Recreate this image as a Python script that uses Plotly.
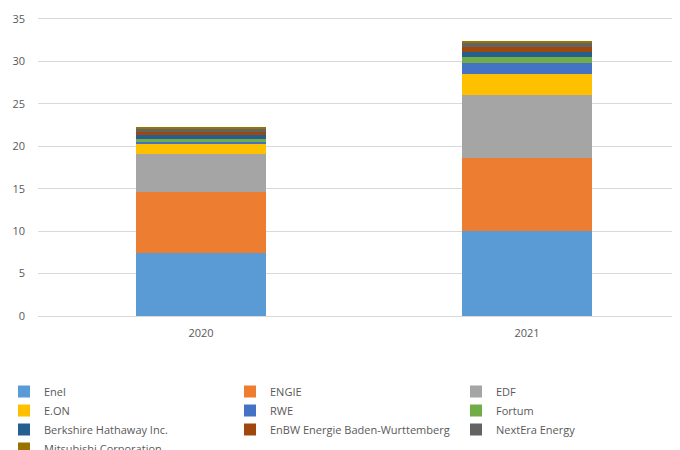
import plotly.graph_objects as go

years = ["2020", "2021"]
companies = ["Enel", "ENGIE", "EDF", "E.ON", "RWE", "Fortum",
             "Berkshire Hathaway Inc.", "EnBW Energie Baden-Wurttemberg",
             "NextEra Energy", "Mitsubishi Corporation"]
values = {
    "Enel": [7.42, 10.0],
    "ENGIE": [7.16, 8.65],
    "EDF": [4.54, 7.39],
    "E.ON": [1.18, 2.51],
    "RWE": [0.2, 1.3],
    "Fortum": [0.35, 0.71],
    "Berkshire Hathaway Inc.": [0.5, 0.59],
    "EnBW Energie Baden-Wurttemberg": [0.35, 0.51],
    "NextEra Energy": [0.32, 0.47],
    "Mitsubishi Corporation": [0.27, 0.24],
}
colors = ["#5B9BD5", "#ED7D31", "#A5A5A5", "#FFC000", "#4472C4", "#70AD47",
          "#255E91", "#9E480E", "#636363", "#997300"]
y_ticks = [0, 5, 10, 15, 20, 25, 30, 35]

W, H = 760, 442
L, T, B = 30, 8, 134
plot_w = W - L
plot_h = H - T - B

fig = go.Figure()
for name, col in zip(companies, colors):
    fig.add_trace(go.Bar(x=years, y=values[name], name=name, marker_color=col,
                         marker_line_width=0, width=0.4))

fig.update_layout(
    barmode="stack",
    width=W, height=H,
    margin=dict(l=L, r=0, t=T, b=B, autoexpand=False),
    plot_bgcolor="white", paper_bgcolor="white",
    font=dict(family="Open Sans, Calibri, sans-serif", size=11, color="#595959"),
    xaxis=dict(type="category", range=[-0.5, -0.5 + plot_w / 326], showgrid=False,
               showline=True, linecolor="#D9D9D9", linewidth=1, ticks="",
               ticklabelstandoff=7,
               tickfont=dict(size=11, color="#595959")),
    yaxis=dict(range=[0, 35.35], tickvals=y_ticks, showgrid=True, gridcolor="#D9D9D9",
               gridwidth=1, zeroline=False, ticks="", ticklabelstandoff=12,
               tickfont=dict(size=11, color="#595959")),
    legend=dict(orientation="h", xref="paper", yref="paper",
                x=-(L + 4) / plot_w, y=-61 / plot_h, xanchor="left", yanchor="top",
                entrywidth=181, entrywidthmode="pixels",
                font=dict(size=11, color="#595959"), traceorder="normal",
                itemwidth=30, tracegroupgap=0, bgcolor="rgba(0,0,0,0)"),
    bargap=0.6,
)
fig.write_html("out.html")
